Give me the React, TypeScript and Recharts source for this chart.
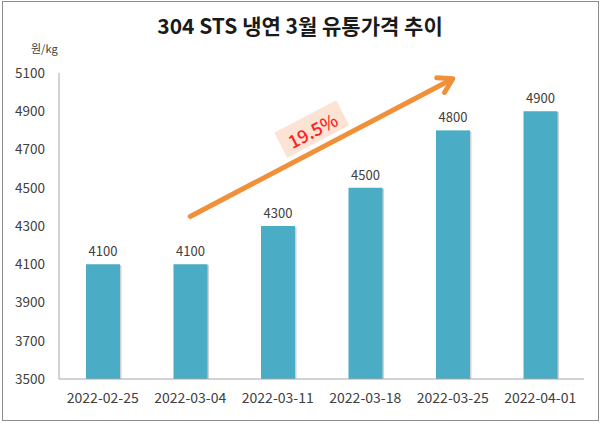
import React from 'react';
import { BarChart, Bar, XAxis, YAxis, LabelList, ReferenceLine } from 'recharts';

const dates = ['2022-02-25', '2022-03-04', '2022-03-11', '2022-03-18', '2022-03-25', '2022-04-01'];
const prices = [4100, 4100, 4300, 4500, 4800, 4900];
const yTicks = [3500, 3700, 3900, 4100, 4300, 4500, 4700, 4900, 5100];
const arrowStart = { date: '2022-03-04', value: 4350 };
const arrowEnd = { date: '2022-03-25', value: 5070 };
const growthLabel = '19.5%';

const data = dates.map((d, i) => ({ date: d, price: prices[i] }));

const FONT = '"Noto Sans CJK KR", "Noto Sans", sans-serif';

const BarShape = (props: any) => {
  const { x, y, width, height } = props;
  return (
    <g>
      <rect x={x + 1.5} y={y + 1} width={width} height={height - 1} fill="#d0d0d0" />
      <rect x={x} y={y} width={width} height={height} fill="#4bacc6" />
    </g>
  );
};

const ArrowShape = (props: any) => {
  const { x1, y1, x2, y2 } = props;
  if ([x1, y1, x2, y2].some((v) => typeof v !== 'number' || isNaN(v))) return null;
  const ang = Math.atan2(y2 - y1, x2 - x1);
  const deg = (ang * 180) / Math.PI;
  const head = 16;
  const spread = 0.55;
  const hx1 = x2 - head * Math.cos(ang - spread);
  const hy1 = y2 - head * Math.sin(ang - spread);
  const hx2 = x2 - head * Math.cos(ang + spread);
  const hy2 = y2 - head * Math.sin(ang + spread);
  const mx = (x1 + x2) / 2;
  const my = (y1 + y2) / 2;
  const nx = Math.sin(ang);
  const ny = -Math.cos(ang);
  const off = 21;
  const lx = mx + nx * off;
  const ly = my + ny * off;
  return (
    <g>
      <line x1={x1} y1={y1} x2={x2 - 2 * Math.cos(ang)} y2={y2 - 2 * Math.sin(ang)} stroke="#f0913a" strokeWidth={5} strokeLinecap="round" />
      <polyline points={`${hx1},${hy1} ${x2},${y2} ${hx2},${hy2}`} fill="none" stroke="#f0913a" strokeWidth={5} strokeLinecap="round" strokeLinejoin="round" />
      <g transform={`translate(${lx},${ly}) rotate(${deg})`}>
        <rect x={-35} y={-14} width={70} height={28} fill="#fde3d3" />
        <text x={0} y={1} textAnchor="middle" dominantBaseline="central" fill="#ff1e1e" fontSize={18} fontWeight={500} fontFamily={FONT}>{growthLabel}</text>
      </g>
    </g>
  );
};

export default function App() {
  return (
    <div style={{ position: 'absolute', left: 0, top: 0, width: 600, height: 423, background: '#fff', fontFamily: FONT }}>
      <div style={{ position: 'absolute', left: 2, top: 1, width: 595, height: 418, border: '1px solid #8c8c8c', boxSizing: 'content-box' }} />
      <div style={{ position: 'absolute', left: 0, top: 10, width: 600, textAlign: 'center', fontSize: 21, fontWeight: 700, color: '#1a1a1a', fontFamily: FONT }}>
        304 STS 냉연 3월 유통가격 추이
      </div>
      <div style={{ position: 'absolute', left: 31, top: 40, fontSize: 11, color: '#404040', fontFamily: FONT }}>원/kg</div>
      <div style={{ position: 'absolute', left: 0, top: 0 }}>
        <BarChart width={600} height={423} data={data} margin={{ top: 73, right: 16, bottom: 0, left: 0 }}>
          <XAxis
            dataKey="date"
            axisLine={{ stroke: '#a6a6a6' }}
            tickLine={false}
            tick={{ fill: '#404040', fontSize: 14, fontFamily: FONT }}
            tickMargin={8}
            height={44}
            interval={0}
          />
          <YAxis
            domain={[3500, 5100]}
            ticks={yTicks}
            axisLine={{ stroke: '#a6a6a6' }}
            tickLine={false}
            tick={{ fill: '#404040', fontSize: 13.5, fontFamily: FONT }}
            tickMargin={8}
            width={59}
            interval={0}
            allowDataOverflow
          />
          <Bar dataKey="price" shape={<BarShape />} isAnimationActive={false} barSize={34}>
            <LabelList dataKey="price" position="top" offset={8} fill="#404040" fontSize={13} fontFamily={FONT} />
          </Bar>
          <ReferenceLine
            segment={[{ x: arrowStart.date, y: arrowStart.value }, { x: arrowEnd.date, y: arrowEnd.value }]}
            shape={<ArrowShape />}
            ifOverflow="visible"
          />
        </BarChart>
      </div>
    </div>
  );
}
